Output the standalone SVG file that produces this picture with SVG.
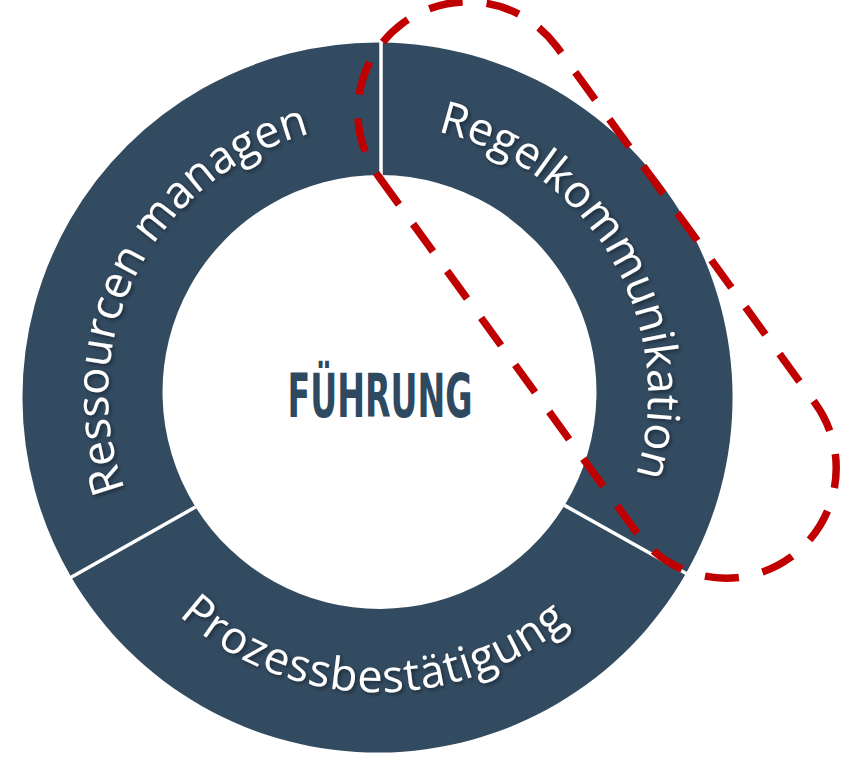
<svg xmlns="http://www.w3.org/2000/svg" width="845" height="774" viewBox="0 0 845 774">
<style>
.seg{fill:#334B61;}
.div{stroke:#ffffff;stroke-width:3.5;fill:none;}
.lbl{font-family:"Open Sans","Noto Sans",sans-serif;font-size:45px;fill:#ffffff;filter:url(#sh);}
.center{font-family:"Liberation Sans Narrow","DejaVu Sans Condensed","Liberation Sans",sans-serif;font-weight:bold;font-size:61px;fill:#2F4A60;}
.loop{fill:none;stroke:#C00000;stroke-width:7.5;stroke-dasharray:34 24;}
</style>
<defs>
<filter id="sh" x="-20%" y="-20%" width="140%" height="140%">
<feDropShadow dx="2" dy="2" stdDeviation="2" flood-color="#000000" flood-opacity="0.45"/>
</filter>
<path id="pRight" d="M 204.4,188.2 A 270 270 0 1 1 470.3,648.7"/>
<path id="pLeft" d="M 296.8,652.5 A 270 270 0 1 1 542.4,180.8"/>
<path id="pBottom" d="M 86.5,338.3 A 297 297 0 1 0 671.3,348.5"/>
</defs>
<rect width="845" height="774" fill="#ffffff"/>
<g id="ressourcen">
<path class="seg" d="M 71.3,577.2 A 355 355 0 0 1 381,42.5 L 381,175 A 217 217 0 0 0 195.5,507 Z"/>
<text class="lbl" text-anchor="middle"><textPath href="#pLeft" startOffset="50%">Ressourcen managen</textPath></text>
</g>
<g id="regelkommunikation">
<path class="seg" d="M 381,42.5 A 355 355 0 0 1 685.9,573.4 L 564.5,505.4 A 217 217 0 0 0 381,175 Z"/>
<text class="lbl" text-anchor="middle"><textPath href="#pRight" startOffset="50%">Regelkommunikation</textPath></text>
</g>
<g id="prozess">
<path class="seg" d="M 685.9,573.4 A 355 355 0 0 1 71.3,577.2 L 195.5,507 A 217 217 0 0 0 564.5,505.4 Z"/>
<text class="lbl" text-anchor="middle" letter-spacing="1"><textPath href="#pBottom" startOffset="50%">Prozessbestätigung</textPath></text>
</g>
<g id="fuehrung">
<text class="center" x="380" y="417" text-anchor="middle" textLength="185" lengthAdjust="spacingAndGlyphs">FÜHRUNG</text>
</g>
<g id="connectors">
<line class="div" x1="381" y1="40" x2="381" y2="177"/>
<line class="div" x1="195.5" y1="507" x2="69" y2="578.5"/>
<line class="div" x1="564.5" y1="505.4" x2="688" y2="574.5"/>
<path class="loop" d="M 379,177 L 637,533 A 110 110 0 0 0 815,403 L 557,47 A 110 110 0 0 0 379,177 Z"/>
</g>
</svg>
